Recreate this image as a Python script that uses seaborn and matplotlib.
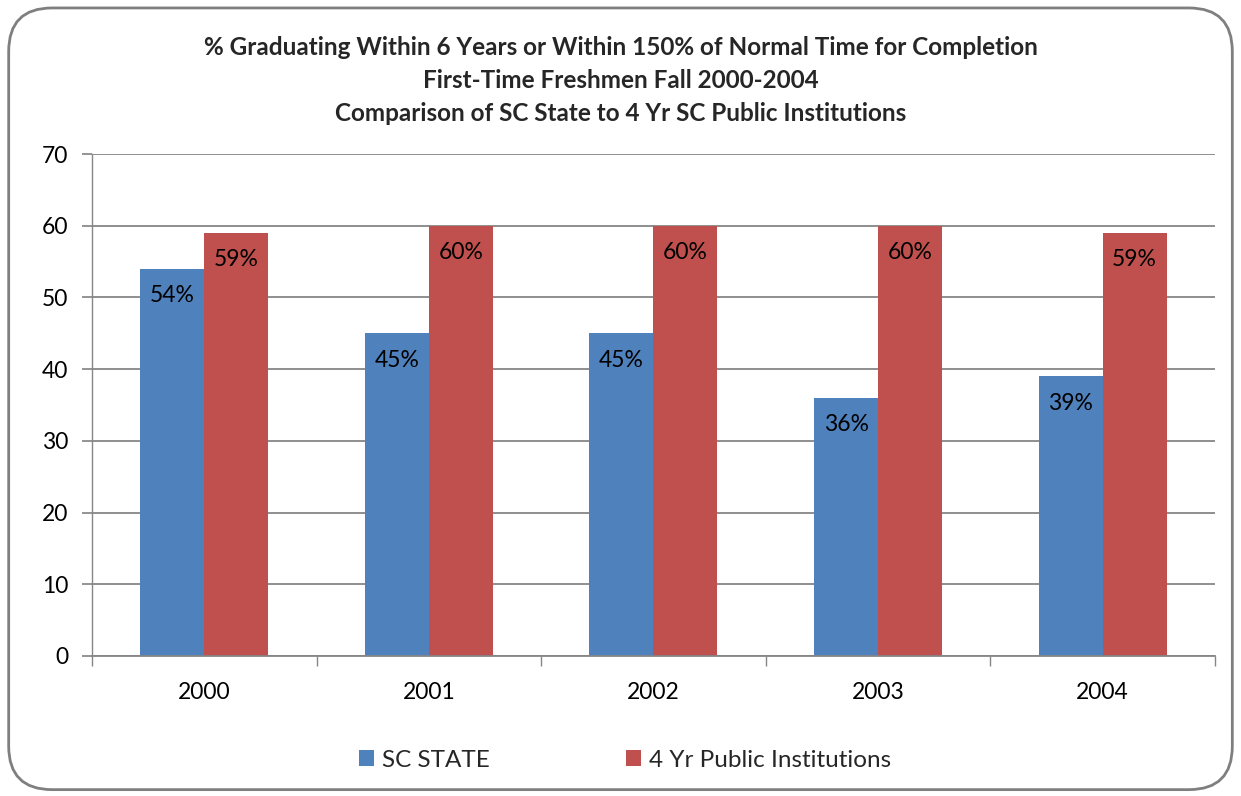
import matplotlib
matplotlib.use("Agg")
import matplotlib.pyplot as plt
import seaborn as sns
import pandas as pd
import numpy as np
from matplotlib.patches import FancyBboxPatch, Patch

years = ["2000", "2001", "2002", "2003", "2004"]
sc_state = [54, 45, 45, 36, 39]
public_4yr = [59, 60, 60, 60, 59]
series_names = ["SC STATE", "4 Yr Public Institutions"]
colors = ["#4F81BD", "#C0504D"]
title_lines = ["% Graduating Within 6 Years or Within 150% of Normal Time for Completion",
               "First-Time Freshmen Fall 2000-2004",
               "Comparison of SC State to 4 Yr SC Public Institutions"]

df = pd.DataFrame({
    "Year": years * 2,
    "Value": sc_state + public_4yr,
    "Series": [series_names[0]] * len(years) + [series_names[1]] * len(years),
})

sns.set_theme(style="white")
plt.rcParams["font.family"] = ["Lato", "DejaVu Sans"]

fig = plt.figure(figsize=(12.41, 7.96), dpi=100)
ax = fig.add_axes([0.0741, 0.1759, 0.9049, 0.6306])

sns.barplot(data=df, x="Year", y="Value", hue="Series", palette=colors,
            width=0.57, saturation=1, ax=ax, legend=False, linewidth=0)

ax.set_ylim(0, 70)
ax.set_xlim(-0.5, len(years) - 0.5)
ax.set_yticks(range(0, 71, 10))
ax.yaxis.grid(True, color="#868686", linewidth=1.3)
ax.set_axisbelow(True)
for s in ["top", "right"]:
    ax.spines[s].set_visible(False)
ax.spines["left"].set_color("#868686")
ax.spines["bottom"].set_color("#868686")
ax.spines["left"].set_linewidth(1.0)
ax.spines["bottom"].set_linewidth(1.3)
ax.set_xlabel("")
ax.set_ylabel("")
ax.tick_params(axis="y", which="major", left=True, length=7, color="#868686",
               labelsize=16.5, pad=10, labelcolor="black")
ax.tick_params(axis="x", which="major", bottom=False, labelsize=16.5, pad=13,
               labelcolor="black")
ax.set_xticks(np.arange(-0.5, len(years) + 0.5, 1), minor=True)
ax.tick_params(axis="x", which="minor", bottom=True, length=7, color="#868686")

for container, vals in zip(ax.containers, [sc_state, public_4yr]):
    for bar, v in zip(container, vals):
        ax.annotate(f"{v}%", (bar.get_x() + bar.get_width() / 2, bar.get_height()),
                    xytext=(0, -19.5), textcoords="offset points",
                    ha="center", va="center", fontsize=16.5, color="black")

ys = [0.940, 0.899, 0.858]
for t, y in zip(title_lines, ys):
    fig.text(0.5, y, t, ha="center", va="center", fontsize=17.5, fontweight="bold")

handles = [Patch(facecolor=c, edgecolor="none") for c in colors]
fig.legend(handles, series_names, loc="center left", bbox_to_anchor=(0.2895, 0.045),
           ncol=2, frameon=False, fontsize=17.5, columnspacing=5.6,
           handlelength=0.6, handleheight=0.6, handletextpad=0.35,
           borderpad=0, borderaxespad=0)

border = FancyBboxPatch((0.007, 0.008), 0.986, 0.982,
                        boxstyle="round,pad=0,rounding_size=0.035",
                        transform=fig.transFigure, facecolor="none",
                        edgecolor="#7F7F7F", linewidth=2.0,
                        mutation_aspect=1241 / 796)
fig.patches.append(border)

fig.savefig("out.png", dpi=100)
